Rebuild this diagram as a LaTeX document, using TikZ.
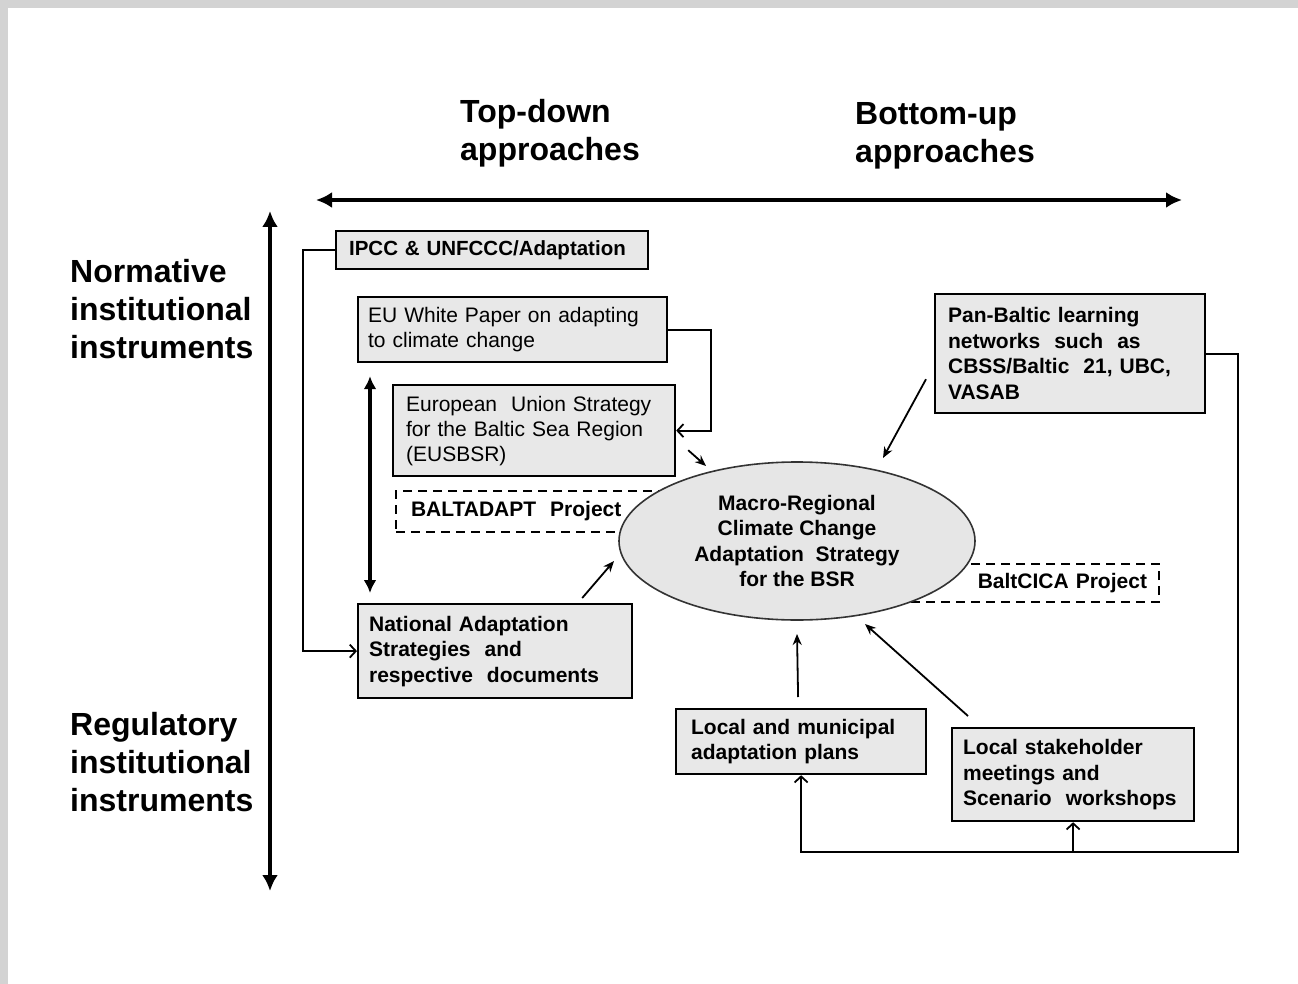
\documentclass[tikz,border=0pt]{standalone}
\usepackage{fontspec}
\setmainfont{Liberation Sans}
\usetikzlibrary{arrows.meta,shapes.geometric,calc}
\definecolor{framegrey}{HTML}{D3D3D3}
\definecolor{boxfill}{HTML}{E8E8E8}
\definecolor{ellfill}{HTML}{E6E6E6}
\definecolor{elldraw}{HTML}{333333}
\newcommand\hdfont{\fontsize{32}{38}\selectfont\bfseries}
\newcommand\bxfont{\fontsize{21}{25}\selectfont}
\newcommand\bxbold{\fontsize{21}{25.5}\selectfont\bfseries}
\begin{document}
\begin{tikzpicture}[x=1pt,y=-1pt,
  hdr/.style={anchor=north west, inner sep=0pt, align=left, font=\hdfont},
  txtbox/.style={draw=black, line width=2.2pt, fill=boxfill, anchor=north west,
    align=left, inner ysep=0pt, font=\bxfont},
  dbox/.style={draw=black, line width=2pt, dash pattern=on 9pt off 6pt, fill=white,
    anchor=north west, inner ysep=0pt, font=\bxbold},
  ellnode/.style={ellipse, draw=elldraw, line width=1.6pt, fill=ellfill, inner sep=0pt,
    align=center, font=\bxbold},
  conn/.style={line width=1.8pt},
  oarr/.style={conn, -{Straight Barb[length=6pt,width=13pt]}},
  sarr/.style={conn, -{Stealth[length=11pt,width=9pt]}},
  bigarr/.style={line width=4pt, {Latex[length=16pt,width=16pt]}-{Latex[length=16pt,width=16pt]}},
  midarr/.style={line width=3.6pt, {Latex[length=13pt,width=13pt]}-{Latex[length=13pt,width=13pt]}}
]
\useasboundingbox (0,0) rectangle (1298,984);
\fill[framegrey] (0,0) rectangle (1298,984);
\fill[white] (8,8) rectangle (1298,984);

% headers
\node[hdr] (td) at (460,99) {Top-down\\approaches};
\node[hdr] (bu) at (855,102) {Bottom-up\\approaches};
\node[hdr] (norm) at (70,259) {Normative\\institutional\\instruments};
\node[hdr] (reg) at (70,712) {Regulatory\\institutional\\instruments};

% axes
\coordinate (hL) at (316,200);
\coordinate (hR) at (1182,200);
\coordinate (vT) at (270,211);
\coordinate (vB) at (270,891);
\draw[bigarr] (hL) -- (hR);
\draw[bigarr] (vT) -- (vB);

% dashed project boxes
\node[dbox, minimum width=265pt, minimum height=41pt, text width=235pt, inner xsep=15pt, align=left]
  (balt) at (395,490) {BALTADAPT\ \ Project};
\node[dbox, minimum width=248pt, minimum height=38pt, text width=224pt, inner xsep=12pt, align=right]
  (cica) at (910,563) {BaltCICA Project};

% boxes
\node[txtbox, font=\bxbold\fontsize{20.5}{25}\selectfont, minimum height=38pt, text width=286pt, inner xsep=13pt]
  (ipcc) at (335,230) {IPCC \& UNFCCC/Adaptation};
\node[txtbox, minimum height=65pt, text width=289pt, inner xsep=10pt]
  (eu) at (357,296) {EU White Paper on adapting\\to climate change};
\node[txtbox, minimum height=91pt, text width=256pt, inner xsep=13pt]
  (eus) at (392,384) {European\ \ Union Strategy\\for the Baltic Sea Region\\(EUSBSR)};
\node[txtbox, font=\bxbold, minimum height=94pt, text width=252pt, inner xsep=11pt]
  (nas) at (357,603) {National Adaptation\\Strategies\ \ and\\respective\ \ documents};
\node[txtbox, font=\bxbold, minimum height=119pt, text width=244pt, inner xsep=13pt]
  (pan) at (934,293) {Pan-Baltic learning\\networks\ \ such\ \ as\\CBSS/Baltic\ \ 21, UBC,\\VASAB};
\node[txtbox, font=\bxbold, minimum height=65pt, text width=220pt, inner xsep=15pt]
  (lmp) at (675,708) {Local and municipal\\adaptation plans};
\node[txtbox, font=\bxbold, minimum height=93pt, text width=220pt, inner xsep=11pt]
  (lsh) at (951,727) {Local stakeholder\\meetings and\\Scenario\ \ workshops};

% central ellipse
\node[ellnode, minimum width=356pt, minimum height=158pt] (ms) at (797,541)
  {Macro-Regional\\Climate Change\\Adaptation\ \ Strategy\\for the BSR};

% connectors
\draw[oarr] (ipcc.west) -- ++(-32,0) |- (nas.west);
\draw[oarr] (eu.east) -- ++(43,0) |- (eus.east);
\draw[midarr] ($(eu.south west)+(13,13)$) -- ($(nas.north west)+(13,-10)$);

\coordinate (e1) at (706,466);
\coordinate (e2) at (614,561);
\coordinate (e3) at (883,458);
\coordinate (e4) at (797,634);
\coordinate (e5) at (865,624);
\draw[sarr] ($(eus.south east)+(12,-27)$) -- (e1);
\draw[sarr] ($(nas.north east)+(-51,-5)$) -- (e2);
\draw[sarr] ($(pan.south west)+(-8,-35)$) -- (e3);
\draw[sarr] ($(lmp.north)+(-3,-11)$) -- (e4);
\draw[sarr] ($(lsh.north west)+(17,-11)$) -- (e5);

\coordinate (bus) at (lsh.south |- 0,852);
\draw[oarr] (pan.east) -- ++(32,0) |- (bus) -| (lmp.south);
\draw[oarr] (bus) -- (lsh.south);
\end{tikzpicture}
\end{document}
